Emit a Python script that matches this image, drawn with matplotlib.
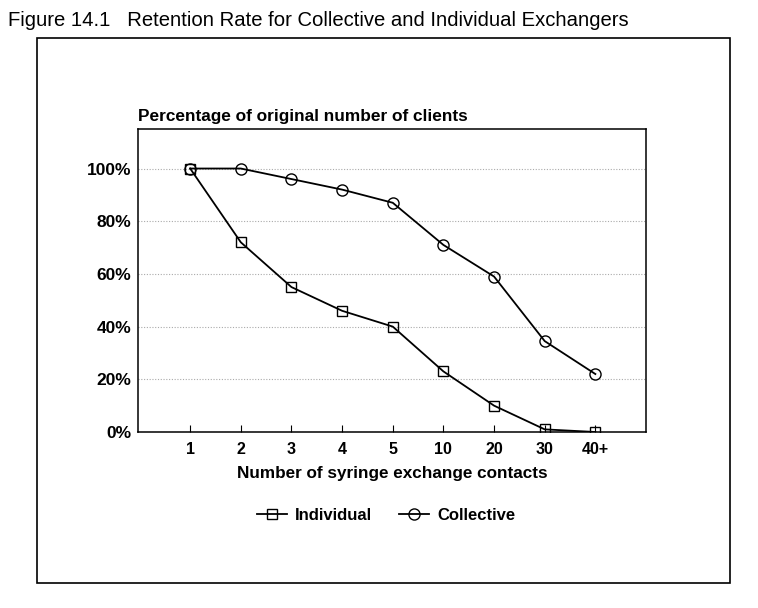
import matplotlib.pyplot as plt
from matplotlib.patches import Rectangle

contacts = ["1", "2", "3", "4", "5", "10", "20", "30", "40+"]
individual = [100, 72, 55, 46, 40, 23, 10, 1, 0]
collective = [100, 100, 96, 92, 87, 71, 59, 34.5, 22]
y_ticks = [0, 20, 40, 60, 80, 100]

plt.rcParams['font.family'] = ['Liberation Sans', 'DejaVu Sans']

fig = plt.figure(figsize=(7.58, 6.08), dpi=100)
W, H = 758, 608

# outer frame
fig.patches.append(Rectangle((37 / W, 1 - 583 / H), (730 - 37) / W, (583 - 38) / H,
                             transform=fig.transFigure, fill=False, lw=1.2, color="black"))
fig.text(8 / W, 1 - 21 / H, "Figure 14.1   Retention Rate for Collective and Individual Exchangers",
         fontsize=14.6, va="center", ha="left")

ax = fig.add_axes([138 / W, 1 - 432 / H, (646 - 138) / W, (432 - 129) / H])
x = range(len(contacts))
ax.plot(x, individual, color="black", lw=1.3, marker="s", ms=7, mfc="none", mew=1, label="Individual")
ax.plot(x, collective, color="black", lw=1.3, marker="o", ms=8, mfc="none", mew=1, label="Collective")

ax.set_xlim(-1.03, 9.0)
ax.set_ylim(0, 115)
ax.set_xticks(list(x))
ax.set_xticklabels(contacts, fontsize=11.5, fontweight="bold")
ax.set_yticks(y_ticks)
ax.set_yticklabels([f"{v}%" for v in y_ticks], fontsize=12.5, fontweight="bold")
ax.tick_params(axis="x", direction="in", length=5, pad=7)
ax.tick_params(axis="y", length=0, pad=5)
ax.grid(axis="y", color="#aaaaaa", linestyle=(0, (1, 1.5)), lw=0.8)
ax.set_axisbelow(True)
for s in ax.spines.values():
    s.set_linewidth(1.1)

ax.set_xlabel("Number of syringe exchange contacts", fontsize=12.3, fontweight="bold", labelpad=7)
ax.text(0, 1.015, "Percentage of original number of clients", transform=ax.transAxes,
        fontsize=12.4, fontweight="bold", ha="left", va="bottom")

fig.legend(loc="center", bbox_to_anchor=(386 / W, 1 - 515 / H), ncol=2, frameon=False,
           prop={"weight": "bold", "size": 12}, handlelength=1.8, handletextpad=0.5,
           columnspacing=1.6)

fig.savefig("out.png", dpi=100)
